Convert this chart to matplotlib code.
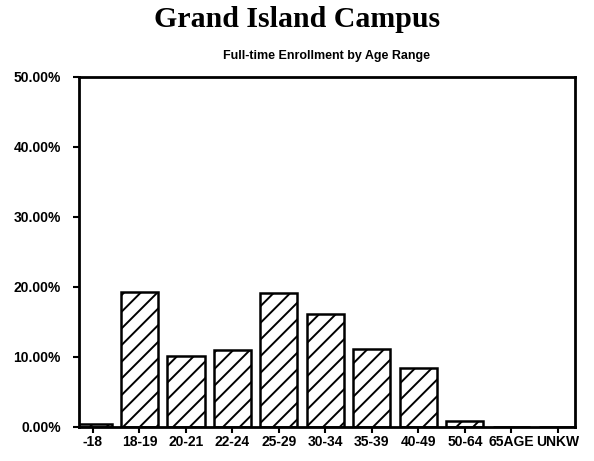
import numpy as np
import matplotlib
matplotlib.use('Agg')
from matplotlib import pyplot as plt
from matplotlib.ticker import FuncFormatter

# age ranges and share of full-time enrollment (%)
age_ranges = ['-18', '18-19', '20-21', '22-24', '25-29', '30-34', '35-39', '40-49', '50-64', '65AGE', 'UNKW']
enrollment_pct = [0.4, 19.3, 10.1, 11.0, 19.1, 16.1, 11.1, 8.4, 0.9, 0.0, 0.0]

plt.rcParams['hatch.linewidth'] = 1.4

fig = plt.figure(figsize=(5.94, 4.61), dpi=100)
ax = fig.add_axes([0.133, 0.074, 0.835, 0.759])

x = np.arange(len(age_ranges))
ax.bar(x, enrollment_pct, width=0.8, facecolor='white', edgecolor='black',
       linewidth=1.8, hatch='//')

ax.set_xlim(-0.3, 10.37)
ax.set_ylim(0, 50)
ax.set_yticks([0, 10, 20, 30, 40, 50])
ax.yaxis.set_major_formatter(FuncFormatter(lambda v, p: '%.2f%%' % v))
ax.set_xticks(x)
ax.set_xticklabels(age_ranges)

for s in ax.spines.values():
    s.set_linewidth(2)
ax.tick_params(axis='both', width=1.5, length=4, labelsize=10, pad=2)
ax.tick_params(axis='y', pad=9)
for lbl in ax.get_xticklabels() + ax.get_yticklabels():
    lbl.set_fontfamily('Liberation Sans')
    lbl.set_fontweight('bold')

ax.set_title('Full-time Enrollment by Age Range', fontsize=9, fontweight='bold',
             family='Liberation Sans', pad=13)
fig.text(0.5, 0.958, 'Grand Island Campus', ha='center', va='center',
         fontsize=21.5, fontweight='bold', family='Liberation Serif')

fig.savefig('out.png', dpi=100)
